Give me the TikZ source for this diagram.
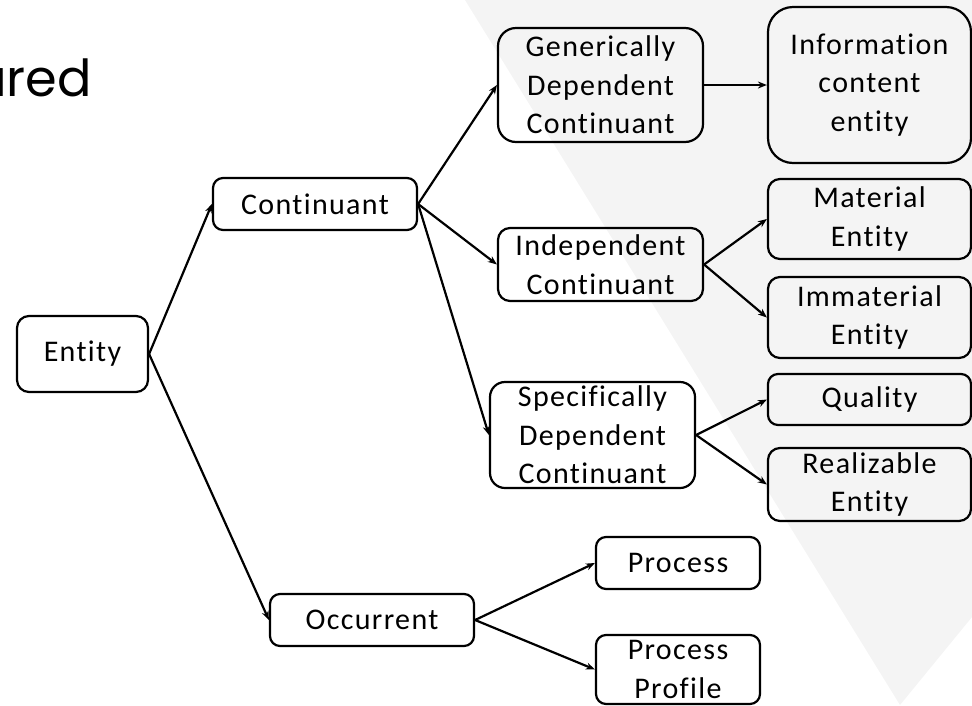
\documentclass[tikz,border=0pt]{standalone}
\usepackage{fontspec}
\setmainfont{Carlito}[Ligatures=NoCommon, LetterSpace=4.5]
\newfontfamily\titlefont{Poppins}
\usetikzlibrary{arrows.meta}
\definecolor{bgshade}{RGB}{244,244,244}
\tikzset{
  box/.style={draw=black, line width=2.2pt, inner sep=0pt, align=center,
    font=\fontsize{30}{38.5}\selectfont, text=black},
  conn/.style={draw=black, line width=2.2pt, -{Stealth[length=9pt,width=7pt]}},
}
\begin{document}
\begin{tikzpicture}[x=1pt,y=-1pt]
\useasboundingbox (0,0) rectangle (972,705);
% background watermark
\fill[bgshade] (465,0) -- (972,0) -- (972,617) -- (900,705) -- cycle;
% title fragment
\node[anchor=base east, inner sep=0pt, font=\titlefont\fontsize{51}{58}\selectfont] (title) at (92,96) {ured};
% nodes
\node[box, rounded corners=12pt, minimum width=131pt, minimum height=76pt] (ent) at (82.5,354) {Entity};
\node[box, rounded corners=10pt, minimum width=204pt, minimum height=52pt] (cont) at (315,204) {Continuant};
\node[box, rounded corners=10pt, minimum width=204pt, minimum height=52pt] (occ) at (372,620) {Occurrent};
\node[box, rounded corners=18pt, minimum width=205pt, minimum height=114pt] (gdc) at (600.5,85) {Generically\\Dependent\\Continuant};
\node[box, rounded corners=25pt, minimum width=203pt, minimum height=156pt] (ice) at (869.5,85) {Information\\content\\entity};
\node[box, rounded corners=12pt, minimum width=205pt, minimum height=73pt] (ic) at (600.5,264.5) {Independent\\Continuant};
\node[box, rounded corners=12pt, minimum width=203pt, minimum height=80pt] (mat) at (869.5,219) {Material\\Entity};
\node[box, rounded corners=12pt, minimum width=203pt, minimum height=81pt] (imm) at (869.5,317.5) {Immaterial\\Entity};
\node[box, rounded corners=15pt, minimum width=205pt, minimum height=106pt] (sdc) at (592.5,435) {Specifically\\Dependent\\Continuant};
\node[box, rounded corners=10pt, minimum width=203pt, minimum height=51pt] (qual) at (869.5,399.5) {Quality};
\node[box, rounded corners=12pt, minimum width=203pt, minimum height=73pt] (real) at (869.5,484.5) {Realizable\\Entity};
\node[box, rounded corners=10pt, minimum width=164pt, minimum height=52pt] (proc) at (678,563) {Process};
\node[box, rounded corners=10pt, minimum width=164pt, minimum height=69pt] (prof) at (678,669.5) {Process\\Profile};
% connectors
\draw[conn] (ent.east) -- (cont.west);
\draw[conn] (ent.east) -- (occ.west);
\draw[conn] (cont.east) -- (gdc.west);
\draw[conn] (cont.east) -- (ic.west);
\draw[conn] (cont.east) -- (sdc.west);
\draw[conn] (gdc.east) -- (ice.west);
\draw[conn] (ic.east) -- (mat.west);
\draw[conn] (ic.east) -- (imm.west);
\draw[conn] (sdc.east) -- (qual.west);
\draw[conn] (sdc.east) -- (real.west);
\draw[conn] (occ.east) -- (proc.west);
\draw[conn] (occ.east) -- (prof.west);
\end{tikzpicture}
\end{document}
